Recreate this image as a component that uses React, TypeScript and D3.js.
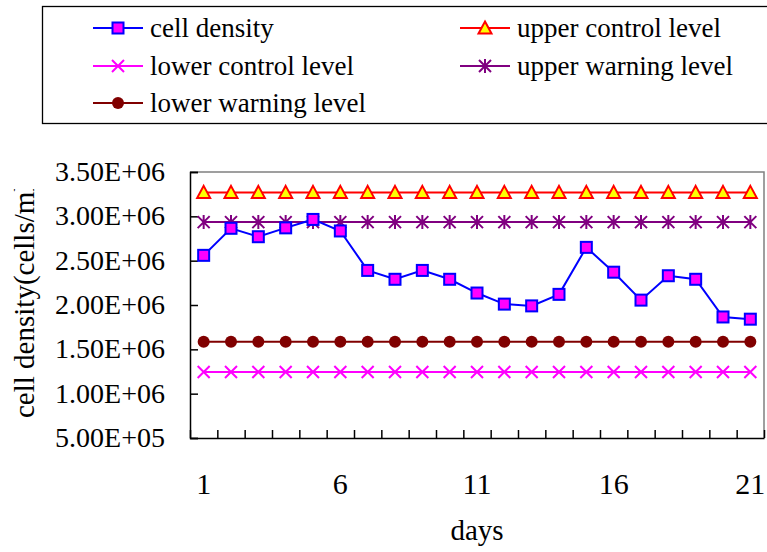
import React, { useEffect, useRef } from 'react';
import * as d3 from 'd3';

const days = d3.range(1, 22);
const cellDensity = [2.56e6, 2.865e6, 2.77e6, 2.87e6, 2.965e6, 2.835e6, 2.39e6, 2.29e6, 2.39e6, 2.29e6, 2.135e6,
  2.01e6, 1.99e6, 2.12e6, 2.65e6, 2.37e6, 2.055e6, 2.33e6, 2.29e6, 1.865e6, 1.84e6];
const upperControl = 3.27e6;
const upperWarning = 2.935e6;
const lowerWarning = 1.585e6;
const lowerControl = 1.245e6;
const yTicks = [5e5, 1e6, 1.5e6, 2e6, 2.5e6, 3e6, 3.5e6];
const xTickLabels = [1, 6, 11, 16, 21];

const series = [
  { name: 'cell density', values: cellDensity, color: '#0000FF', marker: 'square' },
  { name: 'upper control level', values: days.map(() => upperControl), color: '#FF0000', marker: 'triangle' },
  { name: 'lower control level', values: days.map(() => lowerControl), color: '#FF00FF', marker: 'x' },
  { name: 'upper warning level', values: days.map(() => upperWarning), color: '#800080', marker: 'star' },
  { name: 'lower warning level', values: days.map(() => lowerWarning), color: '#800000', marker: 'circle' },
];

const fmt = (v: number) => {
  const e = Math.floor(Math.log10(v));
  return (v / Math.pow(10, e)).toFixed(2) + 'E+' + String(e).padStart(2, '0');
};

function drawMarker(g: any, type: string, color: string) {
  if (type === 'square') {
    g.append('rect').attr('x', -5.5).attr('y', -5.5).attr('width', 11).attr('height', 11)
      .attr('fill', '#FF00FF').attr('stroke', '#0000FF').attr('stroke-width', 2);
  } else if (type === 'triangle') {
    g.append('path').attr('d', 'M0,-6.5L6.5,5.5L-6.5,5.5Z')
      .attr('fill', '#FFFF00').attr('stroke', '#FF0000').attr('stroke-width', 2);
  } else if (type === 'x') {
    g.append('path').attr('d', 'M-6,-6L6,6M-6,6L6,-6').attr('stroke', color).attr('stroke-width', 2);
  } else if (type === 'star') {
    g.append('path').attr('d', 'M-6,-6L6,6M-6,6L6,-6M0,-7L0,7').attr('stroke', color).attr('stroke-width', 2);
  } else if (type === 'circle') {
    g.append('circle').attr('r', 6).attr('fill', color);
  }
}

const App = () => {
  const svgRef = useRef<SVGSVGElement>(null);

  const width = 767;
  const height = 552;
  const marginLeft = 190;
  const marginRight = 3;
  const marginTop = 172;
  const marginBottom = 114;

  useEffect(() => {
    const svg = d3.select(svgRef.current);
    svg.selectAll('*').remove();
    const font = '"Liberation Serif", "Times New Roman", serif';

    const x = d3.scaleLinear().domain([0.5, 21.5]).range([marginLeft, width - marginRight]);
    const y = d3.scaleLinear().domain([5e5, 3.5e6]).range([height - marginBottom, marginTop]);

    // legend box
    svg.append('rect').attr('x', 42.5).attr('y', 6.5).attr('width', 740).attr('height', 117)
      .attr('fill', 'none').attr('stroke', '#000').attr('stroke-width', 1.3);

    const legendPos = [[93, 28], [460, 28], [93, 66], [460, 66], [93, 103]];
    series.forEach((s, i) => {
      const [lx, ly] = legendPos[i];
      const g = svg.append('g');
      g.append('line').attr('x1', lx).attr('x2', lx + 50).attr('y1', ly).attr('y2', ly)
        .attr('stroke', s.color).attr('stroke-width', 2);
      drawMarker(g.append('g').attr('transform', `translate(${lx + 25},${ly})`), s.marker, s.color);
      g.append('text').attr('x', lx + 57).attr('y', ly + 9).text(s.name)
        .attr('font-family', font).attr('font-size', 27).attr('fill', '#000');
    });

    // plot frame
    svg.append('path')
      .attr('d', `M${marginLeft},${marginTop}H${width - marginRight}V${height - marginBottom}`)
      .attr('fill', 'none').attr('stroke', '#808080').attr('stroke-width', 1.5);

    // Y axis
    svg.append('g')
      .attr('transform', `translate(${marginLeft},0)`)
      .call(d3.axisRight(y).tickValues(yTicks).tickSize(8).tickFormat(() => ''))
      .call(g => g.selectAll('line, path').attr('stroke', '#000').attr('stroke-width', 1.5));
    svg.append('g').selectAll('text').data(yTicks).join('text')
      .attr('x', 165).attr('y', d => y(d) + 9).attr('text-anchor', 'end')
      .attr('font-family', font).attr('font-size', 28).text(d => fmt(d));

    // X axis
    svg.append('g')
      .attr('transform', `translate(0,${height - marginBottom})`)
      .call(d3.axisTop(x).tickValues(d3.range(0.5, 22.5, 1)).tickSize(8).tickSizeOuter(0).tickFormat(() => ''))
      .call(g => g.selectAll('line, path').attr('stroke', '#000').attr('stroke-width', 1.5));
    svg.append('g').selectAll('text').data(xTickLabels).join('text')
      .attr('x', d => x(d)).attr('y', height - marginBottom + 56).attr('text-anchor', 'middle')
      .attr('font-family', font).attr('font-size', 30).text(d => d);

    svg.append('text').attr('x', (marginLeft + width - marginRight) / 2).attr('y', 540)
      .attr('text-anchor', 'middle').attr('font-family', font).attr('font-size', 29).text('days');

    // Y label clipped at the top like the source
    svg.append('clipPath').attr('id', 'ylab-clip')
      .append('rect').attr('x', 0).attr('y', 189).attr('width', 60).attr('height', 260);
    svg.append('g').attr('clip-path', 'url(#ylab-clip)')
      .append('text')
      .attr('transform', 'translate(34,418) rotate(-90)')
      .attr('font-family', font).attr('font-size', 29).text('cell density(cells/ml)');

    // series
    const line = d3.line<number>().x((_, i) => x(days[i])).y(d => y(d));
    const order = [4, 2, 3, 1, 0];
    order.forEach(idx => {
      const s = series[idx];
      svg.append('path').datum(s.values).attr('d', line)
        .attr('fill', 'none').attr('stroke', s.color).attr('stroke-width', 2);
      s.values.forEach((v, i) => {
        drawMarker(svg.append('g').attr('transform', `translate(${x(days[i])},${y(v)})`), s.marker, s.color);
      });
    });
  }, []);

  return (
    <div style={{ position: 'absolute', left: 0, top: 0 }}>
      <svg ref={svgRef} width={width} height={height} style={{ display: 'block', background: '#fff' }}></svg>
    </div>
  );
};

export default App;
